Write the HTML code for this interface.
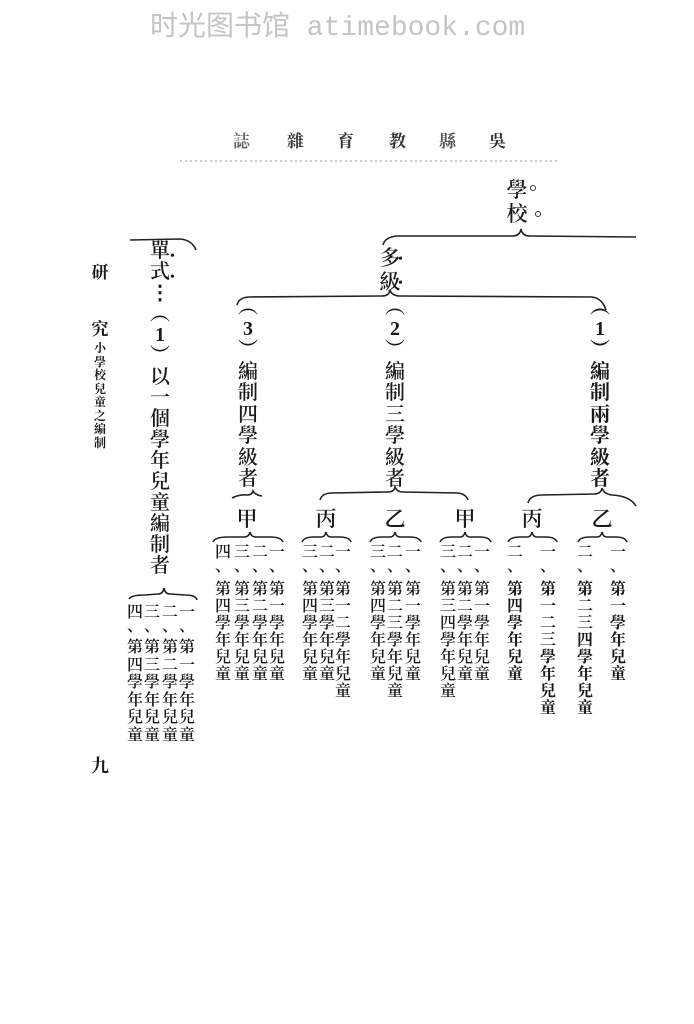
<!DOCTYPE html>
<html><head><meta charset="utf-8">
<style>
html,body{margin:0;padding:0;background:#fff;}
body{width:694px;height:1024px;position:relative;overflow:hidden;font-family:"Liberation Serif","Noto Serif CJK SC","Noto Sans CJK TC",serif;color:#1a1a1a;}
.c{position:absolute;text-align:center;white-space:nowrap;}
.m{width:24px;font-size:20px;line-height:21.5px;font-weight:600;}
.s{width:18px;font-size:16px;line-height:17px;font-weight:600;}
.n{width:18px;font-size:16px;line-height:14px;font-weight:600;}
.l{width:24px;font-size:21px;line-height:24px;font-weight:600;}
svg{position:absolute;left:0;top:0;}
.h{font-size:17px;font-weight:700;color:#333;top:127px;}
</style></head><body>
<div class="c" style="left:150px;top:4px;font-family:'Liberation Mono','Noto Sans CJK SC',sans-serif;font-size:28px;color:#c4c4c4;">时光图书馆 atimebook.com</div>

<div class="c h" style="left:233px;color:#666">誌</div>
<div class="c h" style="left:287px">雜</div>
<div class="c h" style="left:337px">育</div>
<div class="c h" style="left:389px">教</div>
<div class="c h" style="left:439px;color:#555">縣</div>
<div class="c h" style="left:489px">吳</div>

<svg width="694" height="1024">
<line x1="180" y1="161" x2="560" y2="161" stroke="#999" stroke-width="1" stroke-dasharray="2,3"/>
<g fill="none" stroke="#222" stroke-width="1.6">
<path d="M383,245 Q385,237 397,236 L512,236 Q520,236 521,229 Q522,236 530,236 L636,237"/>
<path d="M237,305 Q239,297 250,297 L382,296 Q389,296 390,290 Q392,296 400,296 L592,297 Q602,298 606,310"/>
<path d="M320,500 Q322,493 332,493 L388,492 Q394,492 395,487 Q397,492 403,492 L458,493 Q466,494 468,500"/>
<path d="M232,498 Q240,494 247,495 Q252,495 253,491 Q255,495 262,496"/>
<path d="M528,503 Q530,495 542,495 L594,494 Q601,494 602,488 Q604,494 612,495 Q630,496 636,506"/>
<path d="M130,240 L180,239 Q192,240 196,250"/>
<path d="M129,599 Q131,595 145,595 L158,594 Q163,594 164,588 Q165,594 170,594 L185,595 Q196,595 197,600"/>
<path d="M213,542 Q215,537 228,537 L244,537 Q249,537 250,532 Q251,537 256,537 L270,537 Q281,537 283,542"/>
<path d="M302,542 Q304,537 314,537 L321,537 Q325,537 326,532 Q327,537 331,537 L340,537 Q349,537 351,542"/>
<path d="M370,542 Q372,537 382,537 L390,537 Q394,537 395,532 Q396,537 400,537 L410,537 Q419,537 421,542"/>
<path d="M440,542 Q442,537 452,537 L460,537 Q464,537 465,532 Q466,537 470,537 L480,537 Q489,537 491,542"/>
<path d="M508,542 Q510,537 520,537 L527,537 Q531,537 532,532 Q533,537 537,537 L546,537 Q555,537 557,542"/>
<path d="M578,542 Q580,537 590,537 L597,537 Q601,537 602,532 Q603,537 607,537 L616,537 Q625,537 627,542"/>
</g>
<g fill="none" stroke="#333" stroke-width="1"><circle cx="533" cy="188" r="2.5"/><circle cx="538" cy="214" r="2.5"/></g>
</svg>

<div class="c l" style="left:505px;top:178px">學<br>校</div>
<div class="c l" style="left:378px;top:246px">多<br>級</div>
<div class="c" style="left:398px;top:248px;font-size:14px;line-height:24px">•<br>•</div>

<div class="c m" style="left:588px;top:297px;font-weight:bold">︵<br>1<br>︶<br>編<br>制<br>兩<br>學<br>級<br>者</div>
<div class="c m" style="left:383px;top:297px">︵<br>2<br>︶<br>編<br>制<br>三<br>學<br>級<br>者</div>
<div class="c m" style="left:236px;top:297px">︵<br>3<br>︶<br>編<br>制<br>四<br>學<br>級<br>者</div>

<div class="c m" style="left:148px;top:241px;line-height:21px">單<br>式<br>⋮<br>︵<br>1<br>︶<br>以<br>一<br>個<br>學<br>年<br>兒<br>童<br>編<br>制<br>者</div>
<div class="c" style="left:170px;top:246px;font-size:14px;line-height:21px">•<br>•</div>

<div class="c l" style="left:235px;top:507px">甲</div>
<div class="c l" style="left:314px;top:507px">丙</div>
<div class="c l" style="left:383px;top:507px">乙</div>
<div class="c l" style="left:453px;top:507px">甲</div>
<div class="c l" style="left:520px;top:507px">丙</div>
<div class="c l" style="left:590px;top:507px">乙</div>

<div class="c n" style="left:214px;top:546px">四<br>、</div>
<div class="c n" style="left:233px;top:546px">三<br>、</div>
<div class="c n" style="left:251px;top:546px">二<br>、</div>
<div class="c n" style="left:268px;top:546px">一<br>、</div>
<div class="c n" style="left:301px;top:546px">三<br>、</div>
<div class="c n" style="left:318px;top:546px">二<br>、</div>
<div class="c n" style="left:334px;top:546px">一<br>、</div>
<div class="c n" style="left:369px;top:546px">三<br>、</div>
<div class="c n" style="left:386px;top:546px">二<br>、</div>
<div class="c n" style="left:404px;top:546px">一<br>、</div>
<div class="c n" style="left:439px;top:546px">三<br>、</div>
<div class="c n" style="left:456px;top:546px">二<br>、</div>
<div class="c n" style="left:473px;top:546px">一<br>、</div>
<div class="c n" style="left:506px;top:546px">二<br>、</div>
<div class="c n" style="left:539px;top:546px">一<br>、</div>
<div class="c n" style="left:576px;top:546px">二<br>、</div>
<div class="c n" style="left:609px;top:546px">一<br>、</div>

<div class="c s" style="left:214px;top:581px">第<br>四<br>學<br>年<br>兒<br>童</div>
<div class="c s" style="left:233px;top:581px">第<br>三<br>學<br>年<br>兒<br>童</div>
<div class="c s" style="left:251px;top:581px">第<br>二<br>學<br>年<br>兒<br>童</div>
<div class="c s" style="left:268px;top:581px">第<br>一<br>學<br>年<br>兒<br>童</div>

<div class="c s" style="left:301px;top:581px">第<br>四<br>學<br>年<br>兒<br>童</div>
<div class="c s" style="left:318px;top:581px">第<br>三<br>學<br>年<br>兒<br>童</div>
<div class="c s" style="left:334px;top:581px">第<br>一<br>二<br>學<br>年<br>兒<br>童</div>

<div class="c s" style="left:369px;top:581px">第<br>四<br>學<br>年<br>兒<br>童</div>
<div class="c s" style="left:386px;top:581px">第<br>二<br>三<br>學<br>年<br>兒<br>童</div>
<div class="c s" style="left:404px;top:581px">第<br>一<br>學<br>年<br>兒<br>童</div>

<div class="c s" style="left:439px;top:581px">第<br>三<br>四<br>學<br>年<br>兒<br>童</div>
<div class="c s" style="left:456px;top:581px">第<br>二<br>學<br>年<br>兒<br>童</div>
<div class="c s" style="left:473px;top:581px">第<br>一<br>學<br>年<br>兒<br>童</div>

<div class="c s" style="left:506px;top:581px;font-weight:bold">第<br>四<br>學<br>年<br>兒<br>童</div>
<div class="c s" style="left:539px;top:581px;font-weight:bold">第<br>一<br>二<br>三<br>學<br>年<br>兒<br>童</div>
<div class="c s" style="left:576px;top:581px;font-weight:bold">第<br>二<br>三<br>四<br>學<br>年<br>兒<br>童</div>
<div class="c s" style="left:609px;top:581px;font-weight:bold">第<br>一<br>學<br>年<br>兒<br>童</div>

<div class="c n" style="left:126px;top:606px">四<br>、</div>
<div class="c n" style="left:143px;top:606px">三<br>、</div>
<div class="c n" style="left:161px;top:606px">二<br>、</div>
<div class="c n" style="left:178px;top:606px">一<br>、</div>
<div class="c s" style="left:126px;top:639px;line-height:17.5px">第<br>四<br>學<br>年<br>兒<br>童</div>
<div class="c s" style="left:143px;top:639px;line-height:17.5px">第<br>三<br>學<br>年<br>兒<br>童</div>
<div class="c s" style="left:161px;top:639px;line-height:17.5px">第<br>二<br>學<br>年<br>兒<br>童</div>
<div class="c s" style="left:178px;top:639px;line-height:17.5px">第<br>一<br>學<br>年<br>兒<br>童</div>

<div class="c" style="left:90px;top:258px;width:20px;font-size:17px;font-weight:bold">研</div>
<div class="c" style="left:90px;top:315px;width:20px;font-size:17px;font-weight:bold">究</div>
<div class="c" style="left:92px;top:342px;width:16px;font-size:12px;line-height:13.5px;font-weight:bold">小<br>學<br>校<br>兒<br>童<br>之<br>編<br>制</div>
<div class="c" style="left:90px;top:752px;width:20px;font-size:18px;font-weight:bold">九</div>
</body></html>
